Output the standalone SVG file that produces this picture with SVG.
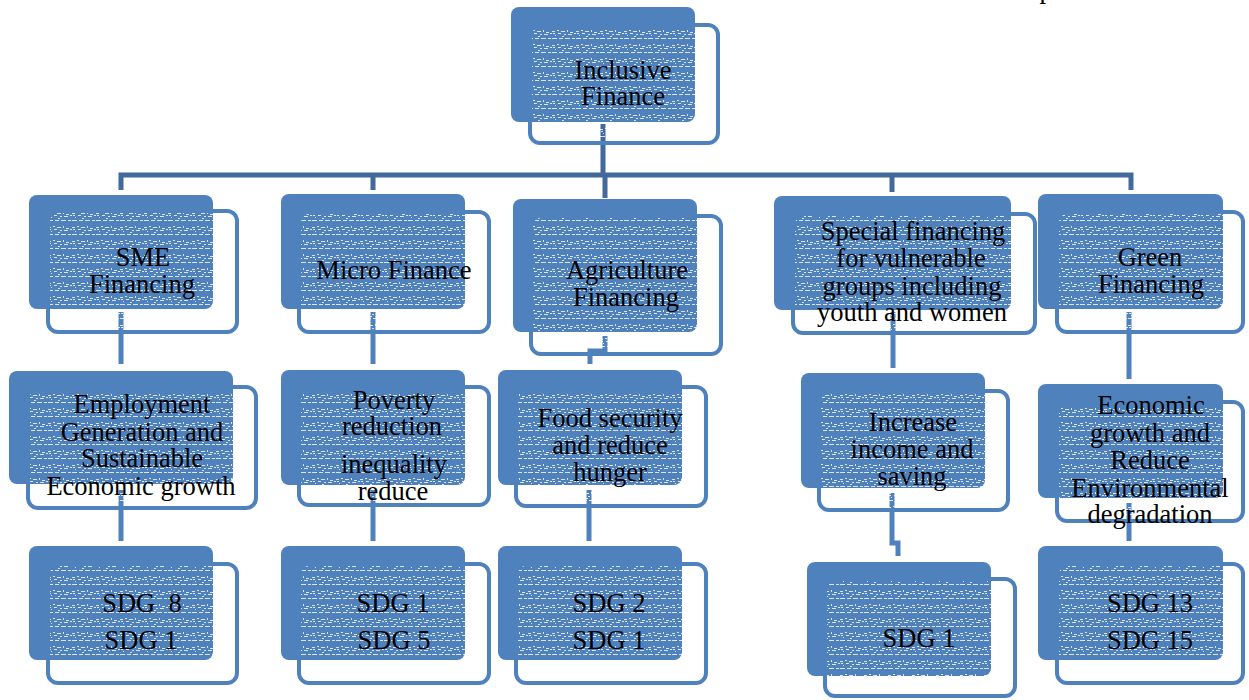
<svg xmlns="http://www.w3.org/2000/svg" width="1249" height="700" viewBox="0 0 1249 700">
<defs>
<pattern id="tex" width="24" height="14" patternUnits="userSpaceOnUse">
<g fill="#fff" opacity="0.8">
<rect x="0" y="3" width="3" height="1"/><rect x="5" y="2" width="2" height="1"/><rect x="9" y="3" width="4" height="1"/>
<rect x="15" y="2" width="1" height="2"/><rect x="18" y="4" width="3" height="1"/><rect x="1" y="5" width="2" height="1"/>
<rect x="6" y="5" width="3" height="1"/><rect x="12" y="6" width="2" height="1"/><rect x="16" y="6" width="4" height="1"/>
<rect x="22" y="5" width="2" height="1"/><rect x="3" y="7" width="1" height="1"/><rect x="10" y="8" width="2" height="1"/>
<rect x="0" y="10" width="5" height="1"/><rect x="7" y="10" width="4" height="1"/><rect x="13" y="10" width="5" height="1"/><rect x="20" y="10" width="3" height="1"/>
</g>
</pattern>
<style>
.f{fill:#4F81BD}
.o{fill:url(#tex);stroke:#4F81BD;stroke-width:4}
.t{font-family:"Liberation Serif","Times New Roman",serif;font-size:26.5px;fill:#000;text-anchor:middle;white-space:pre}
.top{fill:none;stroke:#41699C;stroke-width:5}
.lv{fill:none;stroke:#4F81BD;stroke-width:5}
</style>
</defs>
<rect width="1249" height="700" fill="#fff"/>
<text class="t" x="1046" y="-2">p</text>
<g id="connectors">
<path class="top" d="M603,124V176M121,190V175H1131V190M373,175V190M605,175V198M892,175V192"/>
<path class="lv" d="M121,312V364M121,490V541M373,312V364M373,490V541M605,336V351H590V364M589,490V541M893,312V368M892,493V543H898V556M1129,312V379M1129,503V541"/>
</g>
<g id="n-inclusive"><rect class="f" x="511" y="7" width="184" height="115" rx="8"/><rect class="o" x="530" y="25" width="188" height="118" rx="10"/><text class="t" x="623" y="79">Inclusive</text><text class="t" x="623" y="105">Finance</text></g>
<g id="n-sme"><rect class="f" x="29" y="195" width="184" height="114" rx="8"/><rect class="o" x="48" y="211" width="189" height="121" rx="10"/><text class="t" x="143" y="266">SME</text><text class="t" x="142" y="293">Financing</text></g>
<g id="n-micro"><rect class="f" x="281" y="194" width="184" height="115" rx="8"/><rect class="o" x="299" y="212" width="190" height="120" rx="10"/><text class="t" x="394" y="279">Micro Finance</text></g>
<g id="n-agri"><rect class="f" x="513" y="199" width="184" height="133" rx="8"/><rect class="o" x="531" y="216" width="190" height="138" rx="10"/><text class="t" x="627" y="279">Agriculture</text><text class="t" x="626" y="306">Financing</text></g>
<g id="n-special"><rect class="f" x="774" y="196" width="237" height="114" rx="8"/><rect class="o" x="793" y="214" width="242" height="119" rx="10"/><text class="t" x="913" y="240">Special financing</text><text class="t" x="911" y="267">for vulnerable</text><text class="t" x="912" y="295">groups including</text><text class="t" x="912" y="321">youth and women</text></g>
<g id="n-green"><rect class="f" x="1038" y="194" width="185" height="115" rx="8"/><rect class="o" x="1057" y="212" width="186" height="120" rx="10"/><text class="t" x="1150" y="266">Green</text><text class="t" x="1151" y="293">Financing</text></g>
<g id="n-employment"><rect class="f" x="9" y="371" width="224" height="113" rx="8"/><rect class="o" x="28" y="387" width="228" height="121" rx="10"/><text class="t" x="142" y="413">Employment</text><text class="t" x="142" y="441">Generation and</text><text class="t" x="142" y="467">Sustainable</text><text class="t" x="141" y="495">Economic growth</text></g>
<g id="n-poverty"><rect class="f" x="281" y="370" width="184" height="115" rx="8"/><rect class="o" x="299" y="387" width="190" height="118" rx="10"/><text class="t" x="394" y="409">Poverty</text><text class="t" x="392" y="435">reduction</text><text class="t" x="394" y="473">inequality</text><text class="t" x="393" y="500">reduce</text></g>
<g id="n-food"><rect class="f" x="498" y="370" width="184" height="115" rx="8"/><rect class="o" x="516" y="387" width="190" height="119" rx="10"/><text class="t" x="610" y="427">Food security</text><text class="t" x="610" y="454">and reduce</text><text class="t" x="610" y="481">hunger</text></g>
<g id="n-increase"><rect class="f" x="801" y="373" width="184" height="115" rx="8"/><rect class="o" x="819" y="391" width="189" height="119" rx="10"/><text class="t" x="913" y="431">Increase</text><text class="t" x="912" y="458">income and</text><text class="t" x="912" y="485">saving</text></g>
<g id="n-economic"><rect class="f" x="1038" y="384" width="185" height="114" rx="8"/><rect class="o" x="1057" y="402" width="186" height="119" rx="10"/><text class="t" x="1151" y="414">Economic</text><text class="t" x="1150" y="442">growth and</text><text class="t" x="1150" y="469">Reduce</text><text class="t" x="1150" y="497">Environmental</text><text class="t" x="1150" y="523">degradation</text></g>
<g id="n-sdg8-1"><rect class="f" x="29" y="546" width="184" height="114" rx="8"/><rect class="o" x="48" y="564" width="189" height="119" rx="10"/><text class="t" x="142" y="612">SDG  8</text><text class="t" x="141" y="649">SDG 1</text></g>
<g id="n-sdg1-5"><rect class="f" x="281" y="546" width="184" height="114" rx="8"/><rect class="o" x="299" y="564" width="190" height="119" rx="10"/><text class="t" x="393" y="612">SDG 1</text><text class="t" x="394" y="649">SDG 5</text></g>
<g id="n-sdg2-1"><rect class="f" x="498" y="546" width="184" height="114" rx="8"/><rect class="o" x="516" y="564" width="190" height="119" rx="10"/><text class="t" x="609" y="612">SDG 2</text><text class="t" x="609" y="649">SDG 1</text></g>
<g id="n-sdg1"><rect class="f" x="807" y="562" width="184" height="114" rx="8"/><rect class="o" x="825" y="579" width="190" height="117" rx="10"/><text class="t" x="919" y="647">SDG 1</text></g>
<g id="n-sdg13-15"><rect class="f" x="1038" y="546" width="185" height="114" rx="8"/><rect class="o" x="1057" y="564" width="186" height="119" rx="10"/><text class="t" x="1150" y="612">SDG 13</text><text class="t" x="1150" y="649">SDG 15</text></g>
</svg>
